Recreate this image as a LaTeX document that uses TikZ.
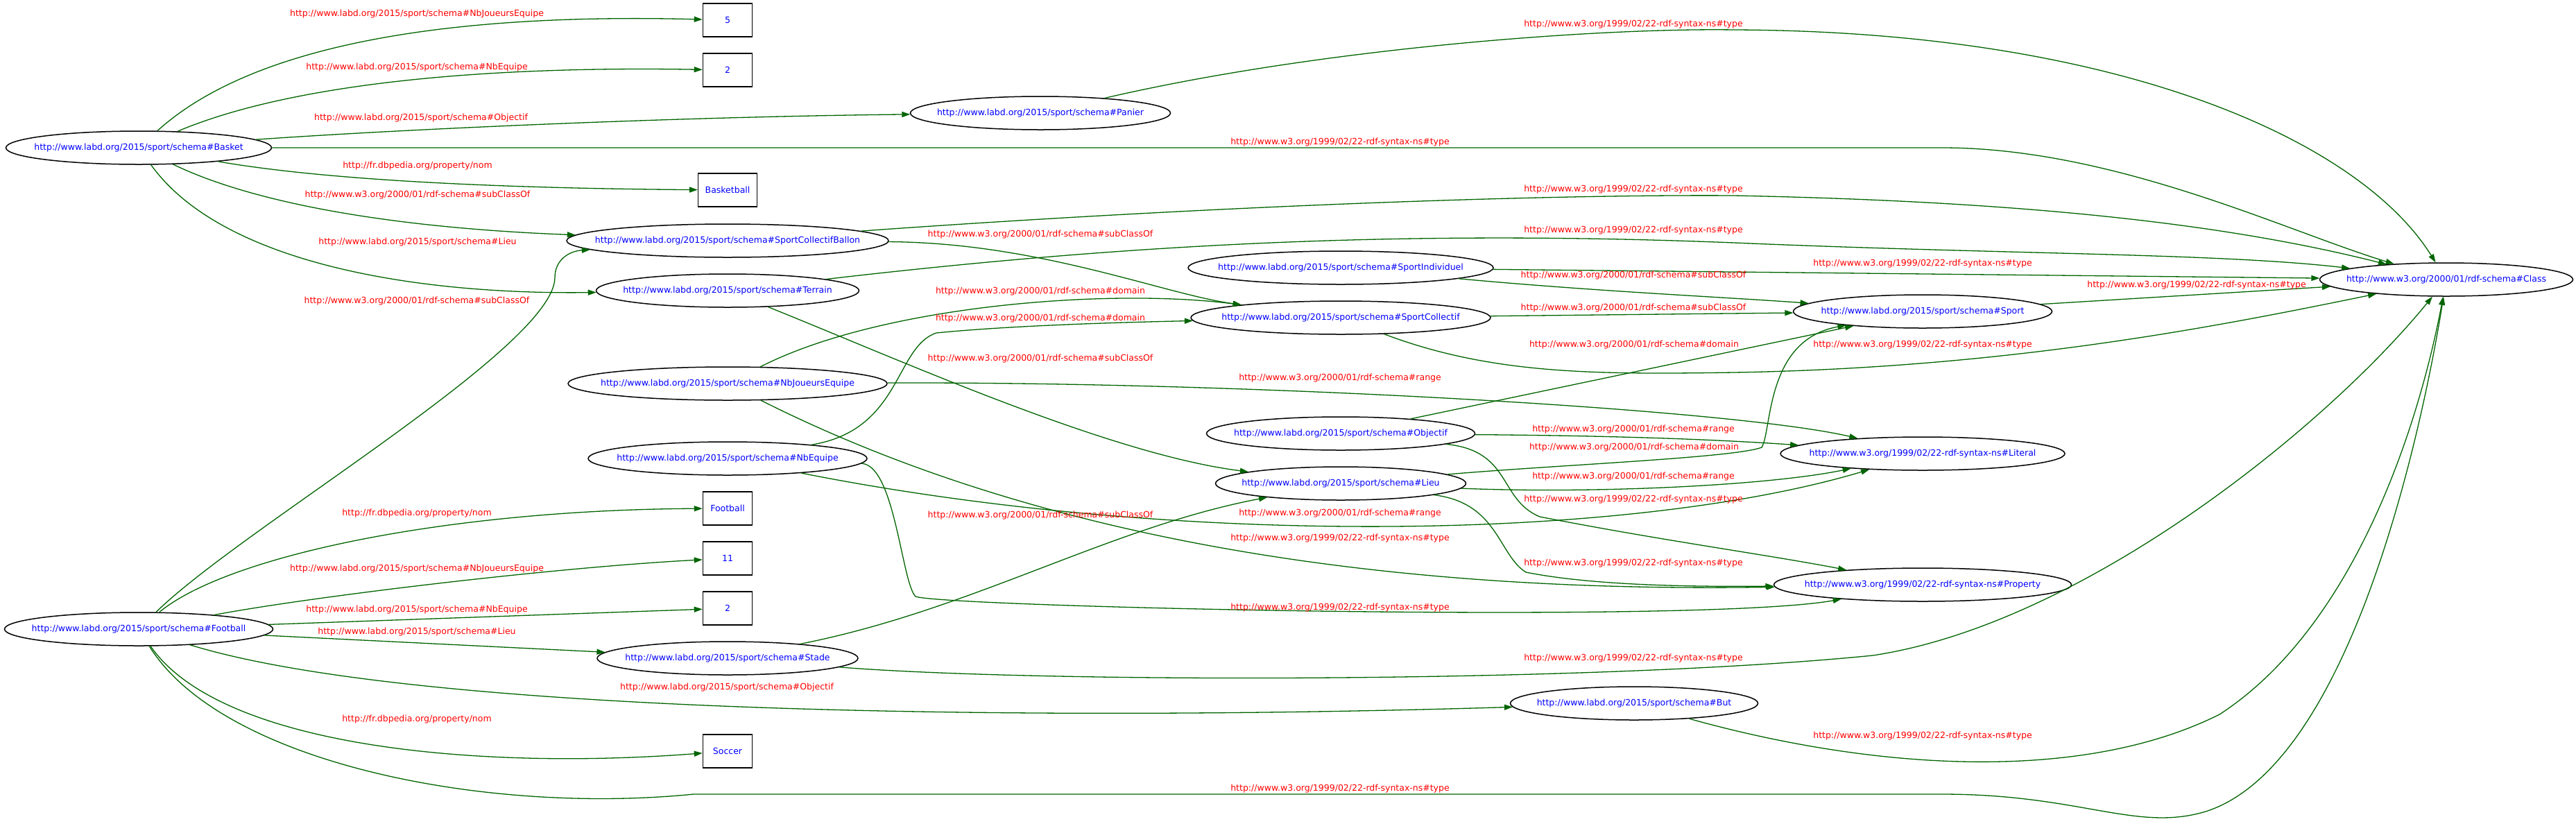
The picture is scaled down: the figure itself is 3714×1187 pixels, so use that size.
\documentclass[tikz,border=0pt]{standalone}
\usepackage{fontspec}
\setmainfont{DejaVu Sans}
\usepackage{xcolor}
\usetikzlibrary{shapes.geometric,arrows.meta}
\definecolor{edgegreen}{HTML}{006400}

\begin{document}
\begin{tikzpicture}[x=1pt,y=-1pt,
  res/.style={ellipse,draw=black,line width=1.5pt,text=blue,inner xsep=-60pt,inner ysep=0pt,minimum height=48pt,font=\fontsize{12.5pt}{15pt}\selectfont},
  lit/.style={rectangle,draw=black,line width=1.5pt,text=blue,inner xsep=10pt,minimum width=71pt,minimum height=48pt,font=\fontsize{12.5pt}{15pt}\selectfont},
  link/.style={draw=edgegreen,line width=1.3pt,-{Triangle[length=12pt,width=8pt]}},
  lbl/.style={text=red,inner sep=0pt,font=\fontsize{12.5pt}{15pt}\selectfont}]
\useasboundingbox[fill=white] (0,0) rectangle (3714,1187);

\node (basket) at (200,213) [res,minimum width=383pt]{http://www.labd.org/2015/sport/schema\#Basket};
\node (football) at (200,907) [res,minimum width=387pt]{http://www.labd.org/2015/sport/schema\#Football};
\node (five) at (1049,29) [lit]{5};
\node (twoA) at (1049,101) [lit]{2};
\node (basketball) at (1049,274) [lit]{Basketball};
\node (scb) at (1049,347) [res,minimum width=464pt]{http://www.labd.org/2015/sport/schema\#SportCollectifBallon};
\node (terrain) at (1049,419) [res,minimum width=379pt]{http://www.labd.org/2015/sport/schema\#Terrain};
\node (nbj) at (1049,553) [res,minimum width=460pt]{http://www.labd.org/2015/sport/schema\#NbJoueursEquipe};
\node (nbeq) at (1049,661) [res,minimum width=402pt]{http://www.labd.org/2015/sport/schema\#NbEquipe};
\node (footballbox) at (1049,733) [lit]{Football};
\node (eleven) at (1049,805) [lit]{11};
\node (twoB) at (1049,877) [lit]{2};
\node (stade) at (1049,949) [res,minimum width=376pt]{http://www.labd.org/2015/sport/schema\#Stade};
\node (soccer) at (1049,1083) [lit]{Soccer};
\node (panier) at (1500,163) [res,minimum width=375pt]{http://www.labd.org/2015/sport/schema\#Panier};
\node (sportindiv) at (1933,386) [res,minimum width=440pt]{http://www.labd.org/2015/sport/schema\#SportIndividuel};
\node (sportcoll) at (1933,458) [res,minimum width=432pt]{http://www.labd.org/2015/sport/schema\#SportCollectif};
\node (objectif) at (1933,625) [res,minimum width=387pt]{http://www.labd.org/2015/sport/schema\#Objectif};
\node (lieu) at (1933,697) [res,minimum width=361pt]{http://www.labd.org/2015/sport/schema\#Lieu};
\node (but) at (2356,1014) [res,minimum width=357pt]{http://www.labd.org/2015/sport/schema\#But};
\node (sport) at (2772,449) [res,minimum width=373pt]{http://www.labd.org/2015/sport/schema\#Sport};
\node (literal) at (2772,654) [res,minimum width=410pt]{http://www.w3.org/1999/02/22-rdf-syntax-ns\#Literal};
\node (property) at (2772,843) [res,minimum width=429pt]{http://www.w3.org/1999/02/22-rdf-syntax-ns\#Property};
\node (class) at (3527,403) [res,minimum width=365pt]{http://www.w3.org/2000/01/rdf-schema\#Class};

\draw[link] (basket) .. controls (380,50) and (700,20) .. (five) node (l1) at (601,20) [lbl]{http://www.labd.org/2015/sport/schema\#NbJoueursEquipe};
\draw[link] (basket) .. controls (420,120) and (700,95) .. (twoA) node (l2) at (601,97) [lbl]{http://www.labd.org/2015/sport/schema\#NbEquipe};
\draw[link] (basket) .. controls (600,185) and (1000,168) .. (panier) node (l3) at (607,170) [lbl]{http://www.labd.org/2015/sport/schema\#Objectif};
\draw[link] (basket) -- (2800,213) .. controls (3050,213) and (3300,335) .. (class) node (l4) at (1932,205) [lbl]{http://www.w3.org/1999/02/22-rdf-syntax-ns\#type};
\draw[link] (basket) .. controls (500,265) and (800,272) .. (basketball) node (l5) at (602,239) [lbl]{http://fr.dbpedia.org/property/nom};
\draw[link] (basket) .. controls (380,300) and (600,330) .. (scb) node (l6) at (602,281) [lbl]{http://www.w3.org/2000/01/rdf-schema\#subClassOf};
\draw[link] (basket) .. controls (320,380) and (600,425) .. (terrain) node (l7) at (602,349) [lbl]{http://www.labd.org/2015/sport/schema\#Lieu};

\draw[link] (football) .. controls (350,760) and (800,500) .. (800,400) .. controls (800,375) and (820,362) .. (scb) node (l8) at (601,434) [lbl]{http://www.w3.org/2000/01/rdf-schema\#subClassOf};
\draw[link] (football) .. controls (330,800) and (650,735) .. (footballbox) node (l9) at (601,740) [lbl]{http://fr.dbpedia.org/property/nom};
\draw[link] (football) .. controls (450,860) and (800,818) .. (eleven) node (l10) at (601,820) [lbl]{http://www.labd.org/2015/sport/schema\#NbJoueursEquipe};
\draw[link] (football) -- (twoB) node (l11) at (601,879) [lbl]{http://www.labd.org/2015/sport/schema\#NbEquipe};
\draw[link] (football) -- (stade) node (l12) at (601,911) [lbl]{http://www.labd.org/2015/sport/schema\#Lieu};
\draw[link] (football) .. controls (600,1030) and (1500,1040) .. (but) node (l13) at (1048,991) [lbl]{http://www.labd.org/2015/sport/schema\#Objectif};
\draw[link] (football) .. controls (320,1080) and (700,1110) .. (soccer) node (l14) at (601,1037) [lbl]{http://fr.dbpedia.org/property/nom};
\draw[link] (football) .. controls (320,1100) and (700,1175) .. (1000,1145) -- (2800,1145) .. controls (3000,1145) and (3080,1200) .. (3180,1170) .. controls (3400,1100) and (3500,570) .. (class) node (l15) at (1932,1137) [lbl]{http://www.w3.org/1999/02/22-rdf-syntax-ns\#type};

\draw[link] (panier) .. controls (1900,70) and (2300,40) .. (2500,43) .. controls (3050,45) and (3400,200) .. (class) node (l16) at (2355,35) [lbl]{http://www.w3.org/1999/02/22-rdf-syntax-ns\#type};
\draw[link] (scb) .. controls (1700,300) and (2200,280) .. (2500,282) .. controls (2900,290) and (3200,320) .. (class) node (l17) at (2355,273) [lbl]{http://www.w3.org/1999/02/22-rdf-syntax-ns\#type};
\draw[link] (scb) .. controls (1500,350) and (1680,425) .. (sportcoll) node (l18) at (1500,338) [lbl]{http://www.w3.org/2000/01/rdf-schema\#subClassOf};
\draw[link] (terrain) .. controls (1600,355) and (2000,330) .. (2500,350) .. controls (2900,367) and (3200,365) .. (class) node (l19) at (2355,332) [lbl]{http://www.w3.org/1999/02/22-rdf-syntax-ns\#type};
\draw[link] (terrain) .. controls (1300,520) and (1600,655) .. (lieu) node (l20) at (1500,517) [lbl]{http://www.w3.org/2000/01/rdf-schema\#subClassOf};

\draw[link] (sportindiv) -- (class) node (l21) at (2772,380) [lbl]{http://www.w3.org/1999/02/22-rdf-syntax-ns\#type};
\draw[link] (sportindiv) .. controls (2300,420) and (2480,428) .. (sport) node (l22) at (2355,397) [lbl]{http://www.w3.org/2000/01/rdf-schema\#subClassOf};
\draw[link] (sportcoll) -- (sport) node (l23) at (2355,444) [lbl]{http://www.w3.org/2000/01/rdf-schema\#subClassOf};
\draw[link] (sportcoll) .. controls (2150,540) and (2300,540) .. (2500,537) .. controls (2900,530) and (3200,470) .. (class) node (l24) at (2772,497) [lbl]{http://www.w3.org/1999/02/22-rdf-syntax-ns\#type};
\draw[link] (sport) -- (class) node (l25) at (3167,411) [lbl]{http://www.w3.org/1999/02/22-rdf-syntax-ns\#type};

\draw[link] (nbj) .. controls (1270,440) and (1600,415) .. (sportcoll) node (l26) at (1500,420) [lbl]{http://www.w3.org/2000/01/rdf-schema\#domain};
\draw[link] (nbj) .. controls (1800,550) and (2500,590) .. (literal) node (l27) at (1932,545) [lbl]{http://www.w3.org/2000/01/rdf-schema\#range};
\draw[link] (nbj) .. controls (1500,780) and (2000,855) .. (property) node (l28) at (1932,776) [lbl]{http://www.w3.org/1999/02/22-rdf-syntax-ns\#type};

\draw[link] (nbeq) .. controls (1300,620) and (1290,500) .. (1350,480) .. controls (1450,470) and (1600,465) .. (sportcoll) node (l29) at (1500,459) [lbl]{http://www.w3.org/2000/01/rdf-schema\#domain};
\draw[link] (nbeq) .. controls (1700,790) and (2350,780) .. (literal) node (l30) at (1932,740) [lbl]{http://www.w3.org/2000/01/rdf-schema\#range};
\draw[link] (nbeq) .. controls (1290,670) and (1300,840) .. (1320,860) .. controls (1360,875) and (2450,900) .. (property) node (l31) at (1932,876) [lbl]{http://www.w3.org/1999/02/22-rdf-syntax-ns\#type};

\draw[link] (objectif) -- (sport) node (l32) at (2356,497) [lbl]{http://www.w3.org/2000/01/rdf-schema\#domain};
\draw[link] (objectif) .. controls (2300,628) and (2450,632) .. (literal) node (l33) at (2355,619) [lbl]{http://www.w3.org/2000/01/rdf-schema\#range};
\draw[link] (objectif) .. controls (2180,650) and (2160,720) .. (2220,745) .. controls (2400,780) and (2550,800) .. (property) node (l34) at (2355,720) [lbl]{http://www.w3.org/1999/02/22-rdf-syntax-ns\#type};

\draw[link] (lieu) .. controls (2250,670) and (2500,660) .. (2540,645) .. controls (2555,620) and (2545,490) .. (sport) node (l35) at (2356,645) [lbl]{http://www.w3.org/2000/01/rdf-schema\#domain};
\draw[link] (lieu) .. controls (2300,712) and (2550,700) .. (literal) node (l36) at (2355,687) [lbl]{http://www.w3.org/2000/01/rdf-schema\#range};
\draw[link] (lieu) .. controls (2160,725) and (2160,800) .. (2200,825) .. controls (2300,845) and (2450,846) .. (property) node (l37) at (2355,812) [lbl]{http://www.w3.org/1999/02/22-rdf-syntax-ns\#type};

\draw[link] (stade) .. controls (1400,880) and (1600,760) .. (lieu) node (l38) at (1500,743) [lbl]{http://www.w3.org/2000/01/rdf-schema\#subClassOf};
\draw[link] (stade) .. controls (1500,985) and (2300,985) .. (2700,945) .. controls (3000,900) and (3350,620) .. (class) node (l39) at (2355,949) [lbl]{http://www.w3.org/1999/02/22-rdf-syntax-ns\#type};
\draw[link] (but) .. controls (2700,1110) and (3000,1130) .. (3200,1030) .. controls (3400,900) and (3490,600) .. (class) node (l40) at (2772,1061) [lbl]{http://www.w3.org/1999/02/22-rdf-syntax-ns\#type};
\end{tikzpicture}
\end{document}
